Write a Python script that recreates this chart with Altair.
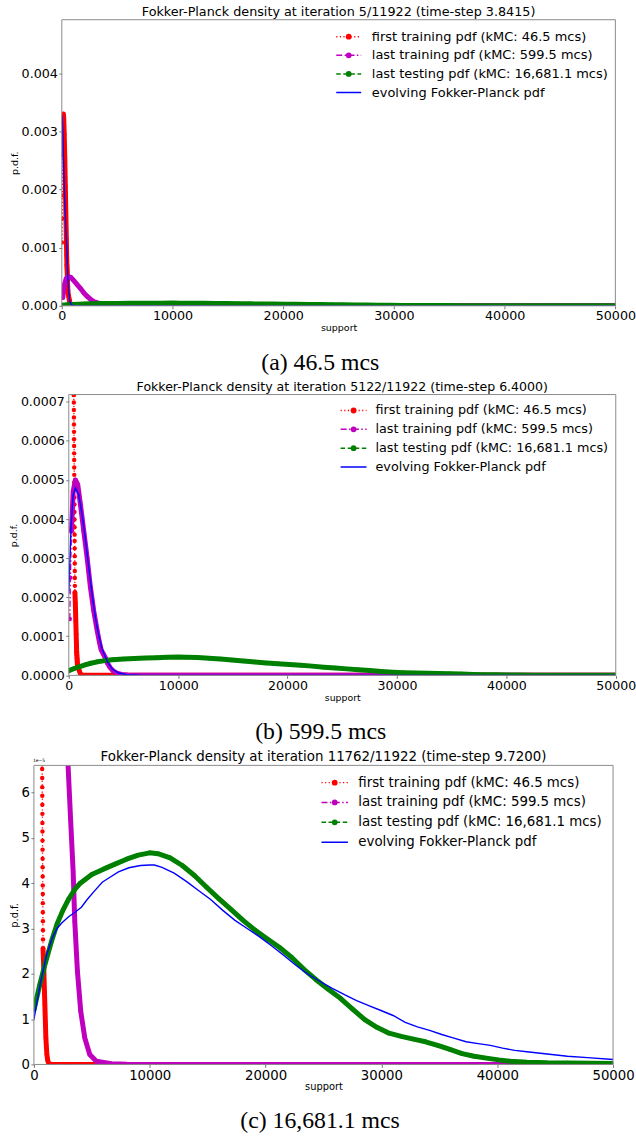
import altair as alt
import pandas as pd

# ---------------------------------------------------------------- data ----
SUPPORT_MAX = 50000
X_TICKS = [0, 10000, 20000, 30000, 40000, 50000]

SERIES = [
    "first training pdf (kMC: 46.5 mcs)",
    "last training pdf (kMC: 599.5 mcs)",
    "last testing pdf (kMC: 16,681.1 mcs)",
    "evolving Fokker-Planck pdf",
]
COLORS = ["#ff0000", "#bf00bf", "#008000", "#0000ff"]
DASHES = [[1.2, 2.4], [6, 2.4, 1.5, 2.4], [4.5, 2.6], [1, 0]]

# kMC pdf at 46.5 mcs
first_x = [15, 35, 55, 80, 110, 140, 175, 220, 270, 320, 370, 410, 440,
           460, 464, 467, 471, 475, 479, 482, 486, 490, 494, 497, 501,
           505, 508, 512, 516, 519, 523, 527, 531, 534, 538, 542, 545,
           549, 553, 556, 560,
           600, 640, 675, 700,
           715, 719, 722, 726, 730, 734, 737, 741, 745, 749, 752, 756,
           760, 764, 767, 771, 775, 779, 782, 786, 790,
           860, 947, 1033, 1119, 1200, 1290, 1500, 3000, 10000, 20000,
           30000, 40000, 50000]
first_y = ([1.09e-3, 1.50e-3, 1.90e-3, 2.60e-3, 3.15e-3, 3.30e-3, 3.22e-3,
            2.95e-3, 2.55e-3, 2.05e-3, 1.55e-3, 1.15e-3, 0.86e-3]
           + [v * 1e-4 for v in (7.17, 6.98, 6.79, 6.60, 6.42, 6.23, 6.04,
                                 5.87, 5.68, 5.51, 5.32, 5.13, 4.94, 4.75,
                                 4.55, 4.37, 4.18, 3.99, 3.79, 3.60, 3.44,
                                 3.25, 3.05, 2.86, 2.67, 2.49, 2.29, 2.12)]
           + [1.85e-4, 1.40e-4, 1.05e-4, 0.82e-4]
           + [v * 1e-5 for v in (6.52, 6.32, 6.12, 5.93, 5.73, 5.53, 5.33,
                                 5.14, 4.94, 4.74, 4.54, 4.35, 4.15, 3.95,
                                 3.76, 3.56, 3.36, 3.16, 2.96, 2.76, 2.56)]
           + [2.05e-5, 1.32e-5, 0.59e-5, 0.22e-5, 0.08e-5, 0.02e-5,
              0, 0, 0, 0, 0, 0, 0])

# kMC pdf at 599.5 mcs
last_train_x = [90, 155, 246, 400, 610, 820, 1066, 1370, 1676, 1980, 2280,
                2590, 2800, 2950, 3170, 3390, 3530, 3760, 4045, 4390, 4820,
                5390, 6680, 8000, 12000, 20000, 30000, 40000, 50000]
last_train_y = [1.44e-4, 2.50e-4, 3.69e-4, 4.71e-4, 5.00e-4, 4.88e-4,
                4.37e-4, 3.69e-4, 3.01e-4, 2.25e-4, 1.65e-4, 1.15e-4,
                0.85e-4, 6.6e-5, 5.4e-5, 4.25e-5, 3.15e-5, 2.05e-5,
                1.17e-5, 5.9e-6, 2.2e-6, 7e-7, 1.5e-7, 5e-8, 0, 0, 0, 0, 0]

# kMC pdf at 16,681.1 mcs
last_test_x = [0, 500, 1000, 1500, 2000, 2500, 3000, 3500, 4000, 5000,
               6000, 7000, 8000, 9000, 10000, 10710, 11760, 12810, 13860,
               14910, 15960, 17010, 18060, 19110, 20160, 21210, 22260,
               23310, 24360, 25410, 26460, 27510, 28560, 29610, 30660,
               31710, 32760, 33810, 34860, 35910, 36960, 38010, 39060,
               40110, 41160, 42560, 44310, 46060, 48000, 50000]
last_test_y = [v * 1e-5 for v in (
    1.20, 1.75, 2.25, 2.70, 3.10, 3.40, 3.65, 3.85, 4.00, 4.19,
    4.31, 4.42, 4.53, 4.62, 4.67, 4.65, 4.56, 4.39, 4.17, 3.91,
    3.66, 3.42, 3.18, 2.96, 2.77, 2.58, 2.36, 2.10, 1.87, 1.66,
    1.46, 1.22, 0.99, 0.82, 0.69, 0.62, 0.56, 0.50, 0.42, 0.33,
    0.24, 0.18, 0.14, 0.10, 0.07, 0.05, 0.035, 0.03, 0.025, 0.02)]

# Fokker-Planck solution at iterations 5, 5122 and 11762
fp_a_x = [0, 40, 80, 120, 170, 230, 300, 370, 450, 540, 620, 700, 800, 900,
          1100, 1500, 2000, 5000, 10000, 20000, 30000, 40000, 50000]
fp_a_y = [3.28e-3, 3.24e-3, 3.05e-3, 2.75e-3, 2.40e-3, 2.00e-3, 1.62e-3,
          1.30e-3, 0.98e-3, 0.52e-3, 0.26e-3, 0.10e-3, 0.035e-3, 0.012e-3,
          0.003e-3, 0.0005e-3, 0, 0, 0, 0, 0, 0, 0]

fp_b_x = [0, 218, 400, 610, 915, 1220, 1520, 1825, 2130, 2430, 2735, 3040,
          3500, 3950, 4560, 5320, 6500, 10000, 20000, 30000, 40000, 50000]
fp_b_y = [v * 1e-4 for v in (
    2.1, 3.86, 4.62, 4.79, 4.62, 4.11, 3.48, 2.76, 2.08, 1.48, 1.02, 0.68,
    0.36, 0.17, 0.06, 0.015, 0.003, 0, 0, 0, 0, 0)]

fp_c_x = [0, 550, 1100, 1600, 2000, 2400, 3000, 3600, 4100, 4600,
          5200, 5900, 6500, 7300, 8200, 9200, 10000, 10400, 11060, 12110,
          13160, 14210, 15260, 16310, 17360, 18410, 19460, 20510, 21560,
          22610, 23660, 24710, 25760, 26810, 27860, 28910, 29960, 31010,
          32060, 33110, 34160, 35210, 36260, 37310, 38360, 39410, 40460,
          41510, 42560, 44310, 46060, 47810, 50000]
fp_c_y = [v * 1e-5 for v in (
    0.99, 1.78, 2.42, 2.80, 3.00, 3.12, 3.26, 3.37, 3.47, 3.64,
    3.82, 4.02, 4.12, 4.25, 4.34, 4.39, 4.40, 4.40, 4.35, 4.22,
    4.04, 3.84, 3.64, 3.40, 3.18, 3.00, 2.82, 2.62, 2.41, 2.19,
    1.99, 1.83, 1.68, 1.54, 1.41, 1.30, 1.19, 1.08, 0.93, 0.83,
    0.75, 0.66, 0.58, 0.50, 0.46, 0.42, 0.36, 0.31, 0.28, 0.23,
    0.18, 0.15, 0.11)]

KMC = [(first_x, first_y), (last_train_x, last_train_y),
       (last_test_x, last_test_y)]
# pixel slope above which a series' markers stop merging into a band
STEEP = [100, 40, 100]

PANELS = [
    dict(title="Fokker-Planck density at iteration 5/11922 (time-step 3.8415)",
         caption="(a) 46.5 mcs", fp=(fp_a_x, fp_a_y),
         ticks=[0, 0.001, 0.002, 0.003, 0.004], fmt=".3f", expr=None,
         left=61.7, top=18, w=555.3, h=287, ytitle_x=-47,
         title_fs=12.8, tick_fs=12.7, small_fs=9.5, leg_fs=13.0,
         leg=(275.3, 300.3, 311, 17, 18.7)),
    dict(title="Fokker-Planck density at iteration 5122/11922 (time-step 6.4000)",
         caption="(b) 599.5 mcs", fp=(fp_b_x, fp_b_y),
         ticks=[0, 0.0001, 0.0002, 0.0003, 0.0004, 0.0005, 0.0006, 0.0007],
         fmt=".4f", expr=None,
         left=68.3, top=393.3, w=548.7, h=281.7, ytitle_x=-55,
         title_fs=12.6, tick_fs=12.6, small_fs=9.4, leg_fs=12.8,
         leg=(272.7, 298.7, 307.7, 16, 18.9)),
    dict(title="Fokker-Planck density at iteration 11762/11922 (time-step 9.7200)",
         caption="(c) 16,681.1 mcs", fp=(fp_c_x, fp_c_y),
         ticks=[0, 1e-5, 2e-5, 3e-5, 4e-5, 5e-5, 6e-5], fmt=None,
         expr="format(datum.value * 1e5, '.0f')",
         left=34, top=765, w=581, h=300, ytitle_x=-19.5,
         title_fs=13.4, tick_fs=13.3, small_fs=9.9, leg_fs=13.4,
         leg=(288.5, 315, 325.4, 17.3, 19.9), offset="1e\u22125"),
]

CAPTION_X = 321          # page centre of the sub-figure captions
CAPTION_DY = 64          # caption baseline below the x axis
HEAD = 18                # room kept above each axes box for its title
MARK_D = 5               # marker diameter (px)


def band_rows(xs, ys, w, h, ymax, steep):
    """Runs of points whose markers overlap into a continuous band."""
    kx, ky = w / SUPPORT_MAX, h / ymax
    rows, run, open_run = [], 0, False
    for i in range(len(xs) - 1):
        dx = (xs[i + 1] - xs[i]) * kx
        dy = abs(ys[i + 1] - ys[i]) * ky
        if dy < steep * dx:
            if not open_run:
                run += 1
                rows.append((xs[i], ys[i], run, i))
                open_run = True
            rows.append((xs[i + 1], ys[i + 1], run, i + 1))
        else:
            open_run = False
    return pd.DataFrame(rows, columns=["x", "y", "run", "i"])


def one_row(**kw):
    return pd.DataFrame({k: [v] for k, v in kw.items()} or {"v": [0]})


def spacer(w, h):
    return (alt.Chart(pd.DataFrame({"v": [0]}))
            .transform_filter("false")
            .mark_point()
            .encode(x=alt.value(0), y=alt.value(0))
            .properties(width=w, height=h))


def build_panel(p, foot):
    w, h = p["w"], p["h"]
    fx, fy = p["fp"]
    ymax = 1.5 * max(fy)

    x_axis = alt.Axis(values=X_TICKS, format="d", labelFlush=False,
                      labelOverlap=False, grid=False, domain=False,
                      tickSize=3, tickColor="#555", tickWidth=0.8,
                      labelPadding=1, labelFontSize=p["tick_fs"],
                      labelColor="black", title="support",
                      titleFontSize=p["small_fs"], titleFontWeight="normal",
                      titleColor="black", titleX=w / 2, titleY=25,
                      titleAlign="center", titleBaseline="alphabetic")
    y_kw = dict(values=p["ticks"], grid=False, domain=False, tickSize=3,
                tickColor="#555", tickWidth=0.8, labelPadding=1.5,
                labelFontSize=p["tick_fs"], labelColor="black",
                labelOverlap=False, title="p.d.f.",
                titleFontSize=p["small_fs"], titleFontWeight="normal",
                titleColor="black", titleX=p["ytitle_x"], titleY=h / 2,
                titleAngle=270, titleAlign="center", titleBaseline="middle")
    if p["expr"]:
        y_kw["labelExpr"] = p["expr"]
    else:
        y_kw["format"] = p["fmt"]
    y_axis = alt.Axis(**y_kw)

    x_enc = alt.X("x:Q", axis=x_axis,
                  scale=alt.Scale(domain=[0, SUPPORT_MAX], nice=False,
                                  zero=False))
    y_enc = alt.Y("y:Q", axis=y_axis,
                  scale=alt.Scale(domain=[0, ymax], nice=False, zero=False))

    layers = []
    for k, (xs, ys) in enumerate(KMC):
        pts = pd.DataFrame({"x": xs, "y": ys, "i": range(len(xs))})
        band = band_rows(xs, ys, w, h, ymax, STEEP[k])
        layers.append(
            alt.Chart(band).mark_line(color=COLORS[k], strokeWidth=MARK_D,
                                      strokeCap="round", strokeJoin="round",
                                      clip=True)
            .encode(x=x_enc, y=y_enc, detail="run:N", order="i:Q"))
        layers.append(
            alt.Chart(pts).mark_line(color=COLORS[k], strokeWidth=1.3,
                                     strokeDash=DASHES[k], clip=True)
            .encode(x=x_enc, y=y_enc, order="i:Q"))
        layers.append(
            alt.Chart(pts).mark_circle(color=COLORS[k], opacity=1,
                                       size=3.1416 / 4 * MARK_D ** 2,
                                       clip=True)
            .encode(x=x_enc, y=y_enc))

    fp = pd.DataFrame({"x": fx, "y": fy, "i": range(len(fx))})
    layers.append(
        alt.Chart(fp).mark_line(color=COLORS[3], strokeWidth=1.4, clip=True)
        .encode(x=x_enc, y=y_enc, order="i:Q"))

    # axes frame (all four spines)
    layers.append(
        alt.Chart(one_row()).mark_rect(fillOpacity=0, stroke="#8c8c8c",
                                       strokeWidth=1)
        .encode(x=alt.value(0), x2=alt.value(w), y=alt.value(0),
                y2=alt.value(h)))

    # title above the axes
    layers.append(
        alt.Chart(one_row(t=p["title"])).mark_text(
            fontSize=p["title_fs"], align="center", baseline="alphabetic",
            color="black")
        .encode(x=alt.value(w / 2), y=alt.value(-4), text="t:N"))

    # legend in the upper right corner
    hx0, hx1, tx, ly0, ldy = p["leg"]
    leg = pd.DataFrame({"name": SERIES,
                        "py": [ly0 + i * ldy for i in range(len(SERIES))]})
    col = alt.Color("name:N", legend=None,
                    scale=alt.Scale(domain=SERIES, range=COLORS))
    dash = alt.StrokeDash("name:N", legend=None,
                          scale=alt.Scale(domain=SERIES, range=DASHES))
    ly = alt.Y("py:Q", scale=None, axis=None)
    layers.append(
        alt.Chart(leg).mark_rule(strokeWidth=1.5)
        .encode(x=alt.value(hx0), x2=alt.value(hx1), y=ly, color=col,
                strokeDash=dash))
    layers.append(
        alt.Chart(leg.iloc[:3]).mark_circle(size=34, opacity=1)
        .encode(x=alt.value((hx0 + hx1) / 2), y=ly, color=col))
    layers.append(
        alt.Chart(leg).mark_text(align="left", baseline="middle",
                                 fontSize=p["leg_fs"], color="black")
        .encode(x=alt.value(tx), y=ly, text="name:N"))

    # sub-figure caption
    layers.append(
        alt.Chart(one_row(t=p["caption"])).mark_text(
            font="Liberation Serif", fontSize=23.8, align="center",
            baseline="alphabetic", color="black")
        .encode(x=alt.value(CAPTION_X - p["left"]),
                y=alt.value(h + CAPTION_DY), text="t:N"))

    if p.get("offset"):
        layers.append(
            alt.Chart(one_row(t=p["offset"])).mark_text(
                fontSize=4.5, align="left", baseline="alphabetic",
                color="black")
            .encode(x=alt.value(-1), y=alt.value(-3), text="t:N"))

    # invisible boxes that fix the extent of each sub-figure
    layers.append(
        alt.Chart(one_row()).mark_rect(opacity=0)
        .encode(x=alt.value(-p["left"]), x2=alt.value(0),
                y=alt.value(-HEAD), y2=alt.value(0)))
    layers.append(
        alt.Chart(one_row()).mark_rect(opacity=0)
        .encode(x=alt.value(0), x2=alt.value(1),
                y=alt.value(h), y2=alt.value(h + foot)))

    return alt.layer(*layers).properties(width=w, height=h)


rows = []
for n, p in enumerate(PANELS):
    if n + 1 < len(PANELS):
        foot = PANELS[n + 1]["top"] - (p["top"] + p["h"]) - HEAD
    else:
        foot = 70
    rows.append(alt.hconcat(spacer(p["left"], 1), build_panel(p, foot),
                            spacing=0, bounds="flush"))

chart = (alt.vconcat(*rows, spacing=0)
         .properties(padding=0)
         .configure(font="DejaVu Sans")
         .configure_view(stroke=None))

chart.save("out.html", embed_options={"renderer": "svg", "actions": False})
